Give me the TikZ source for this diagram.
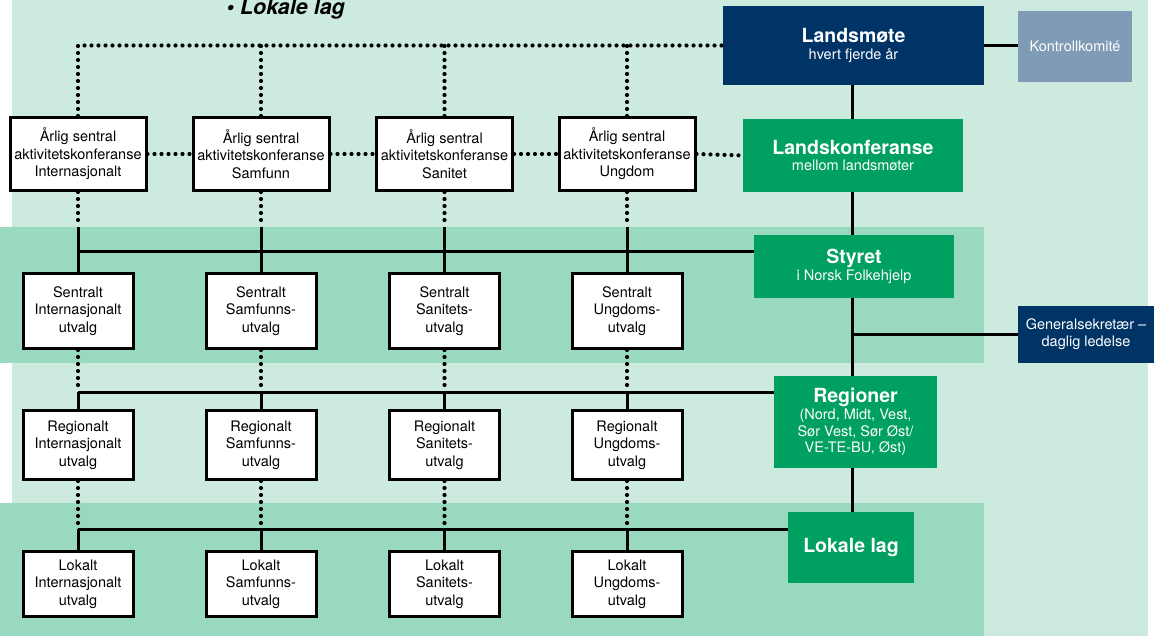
\documentclass[tikz,border=0pt]{standalone}
\usepackage{fontspec}
\setmainfont{TeX Gyre Heros}
\definecolor{bglys}{RGB}{204,235,222}
\definecolor{bgband}{RGB}{153,217,192}
\definecolor{nfgreen}{RGB}{0,160,96}
\definecolor{nfnavy}{RGB}{0,52,102}
\definecolor{nfgrey}{RGB}{127,155,181}
\newcommand{\tittel}[1]{{\fontsize{19.5}{20}\selectfont\bfseries #1}}

\begin{document}
\begin{tikzpicture}[x=1pt,y=-1pt]
	\tikzstyle{utvalg}=[draw=black,line width=3pt,fill=white,align=center,inner sep=0pt,minimum width=110pt,font=\fontsize{14.5}{17.5}\selectfont]
	\tikzstyle{aarlig}=[utvalg,minimum width=136pt,minimum height=73pt]
	\tikzstyle{ledd}=[fill=nfgreen,text=white,align=center,inner sep=0pt,font=\fontsize{14.5}{16.8}\selectfont]
	\tikzstyle{linje}=[line width=3pt]
	\tikzstyle{prikk}=[line width=4.2pt,line cap=round,dash pattern=on 0pt off 7pt]

	\useasboundingbox (0,0) rectangle (1154,636);
	% bakgrunn
	\fill[bglys] (12,0) rectangle (1148,636);
	\fill[bgband] (0,227) rectangle (984,363);
	\fill[bgband] (0,503) rectangle (984,636);
	\node[anchor=base west,font=\fontsize{21.5}{22}\selectfont\bfseries\itshape] (overskrift) at (223,15) {• Lokale lag};

	% hovedledd
	\node[ledd,fill=nfnavy,minimum width=261pt,minimum height=79pt](lm) at (853.5,45.5) {\tittel{Landsmøte}\\hvert fjerde år};
	\node[ledd,fill=nfgrey,minimum width=114pt,minimum height=71pt](kk) at (1075,46.5) {Kontrollkomité};
	\node[ledd,minimum width=220pt,minimum height=73pt](lk) at (853,155.5) {\tittel{Landskonferanse}\\mellom landsmøter};
	\node[ledd,minimum width=200pt,minimum height=63pt](st) at (854,266.5) {\tittel{Styret}\\i Norsk Folkehjelp};
	\node[ledd,fill=nfnavy,minimum width=136pt,minimum height=57pt](gs) at (1086,334.5) {Generalsekretær –\\daglig ledelse};
	\node[ledd,minimum width=163pt,minimum height=92pt](rg) at (855.5,422) {\tittel{Regioner}\\(Nord, Midt, Vest,\\Sør Vest, Sør Øst/\\VE-TE-BU, Øst)};
	\node[ledd,minimum width=126pt,minimum height=71pt](ll) at (851,547.5) {\tittel{Lokale lag}};

	% årlige konferanser
	\node[aarlig](a1) at (78,154) {Årlig sentral\\aktivitetskonferanse\\Internasjonalt};
	\node[aarlig](a2) at (261,154) {Årlig sentral\\aktivitetskonferanse\\Samfunn};
	\node[aarlig](a3) at (444.5,154) {Årlig sentral\\aktivitetskonferanse\\Sanitet};
	\node[aarlig](a4) at (627,154) {Årlig sentral\\aktivitetskonferanse\\Ungdom};

	% sentrale utvalg
	\node[utvalg,minimum height=75pt](s1) at (78,311) {Sentralt\\Internasjonalt\\utvalg};
	\node[utvalg,minimum height=75pt](s2) at (261,311) {Sentralt\\Samfunns-\\utvalg};
	\node[utvalg,minimum height=75pt](s3) at (444.5,311) {Sentralt\\Sanitets-\\utvalg};
	\node[utvalg,minimum height=75pt](s4) at (627,311) {Sentralt\\Ungdoms-\\utvalg};

	% regionale utvalg
	\node[utvalg,minimum height=69pt](r1) at (78,445) {Regionalt\\Internasjonalt\\utvalg};
	\node[utvalg,minimum height=69pt](r2) at (261,445) {Regionalt\\Samfunns-\\utvalg};
	\node[utvalg,minimum height=69pt](r3) at (444.5,445) {Regionalt\\Sanitets-\\utvalg};
	\node[utvalg,minimum height=69pt](r4) at (627,445) {Regionalt\\Ungdoms-\\utvalg};

	% lokale utvalg
	\node[utvalg,minimum height=65pt](l1) at (78,584) {Lokalt\\Internasjonalt\\utvalg};
	\node[utvalg,minimum height=65pt](l2) at (261,584) {Lokalt\\Samfunns-\\utvalg};
	\node[utvalg,minimum height=65pt](l3) at (444.5,584) {Lokalt\\Sanitets-\\utvalg};
	\node[utvalg,minimum height=65pt](l4) at (627,584) {Lokalt\\Ungdoms-\\utvalg};

	\coordinate (akse) at (852,0);
	\coordinate (kant1) at (0,227);
	\coordinate (buss1) at (0,252);
	\coordinate (buss2) at (0,392);
	\coordinate (buss3) at (0,529);

	% heltrukne linjer
	\path[linje]
		(akse |- lm.south) edge (akse |- lk.north)
		(akse |- lk.south) edge (akse |- st.north)
		(akse |- st.south) edge (akse |- rg.north)
		(akse |- rg.south) edge (akse |- ll.north)
		(lm.east) edge (lm.east -| kk.west)
		(akse |- gs.west) edge (gs.west);
	\draw[linje] (s1.north |- buss1) -- (st.west |- buss1);
	\draw[linje] (r1.north |- buss2) -- (rg.west |- buss2);
	\draw[linje] (l1.north |- buss3) -- (ll.west |- buss3);
	\path[linje]
		(a1.south |- kant1) edge (s1.north)
		(a2.south |- kant1) edge (s2.north)
		(a3.south |- kant1) edge (s3.north)
		(a4.south |- kant1) edge (s4.north)
		(s1.south |- buss2) edge (r1.north)
		(s2.south |- buss2) edge (r2.north)
		(s3.south |- buss2) edge (r3.north)
		(s4.south |- buss2) edge (r4.north)
		(r1.south |- buss3) edge (l1.north)
		(r2.south |- buss3) edge (l2.north)
		(r3.south |- buss3) edge (l3.north)
		(r4.south |- buss3) edge (l4.north);

	% prikkede linjer
	\draw[prikk] (a1.north) |- (lm.west);
	\path[prikk]
		(a2.north) edge (a2.north |- lm.west)
		(a3.north) edge (a3.north |- lm.west)
		(a4.north) edge (a4.north |- lm.west)
		(a1.east) edge (a2.west)
		(a2.east) edge (a3.west)
		(a3.east) edge (a4.west)
		(a4.east) edge (lk.west)
		(a1.south) edge (a1.south |- kant1)
		(a2.south) edge (a2.south |- kant1)
		(a3.south) edge (a3.south |- kant1)
		(a4.south) edge (a4.south |- kant1)
		(s1.south) edge (s1.south |- buss2)
		(s2.south) edge (s2.south |- buss2)
		(s3.south) edge (s3.south |- buss2)
		(s4.south) edge (s4.south |- buss2)
		(r1.south) edge (r1.south |- buss3)
		(r2.south) edge (r2.south |- buss3)
		(r3.south) edge (r3.south |- buss3)
		(r4.south) edge (r4.south |- buss3);
\end{tikzpicture}
\end{document}
